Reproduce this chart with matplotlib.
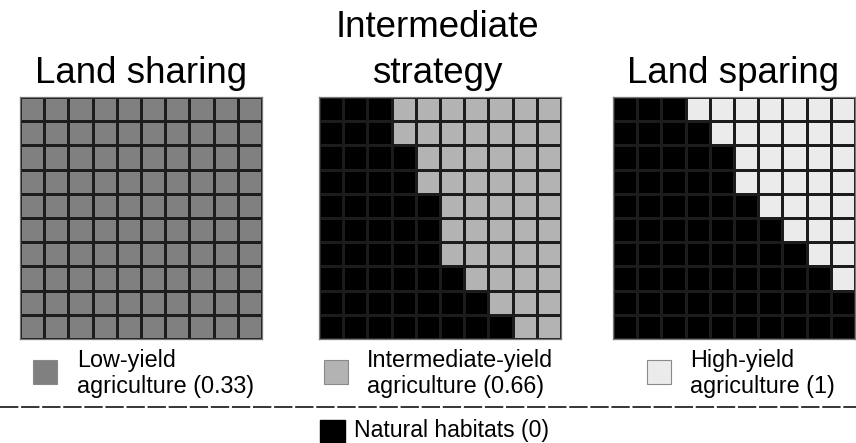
import numpy as np
import matplotlib
matplotlib.use("Agg")
import matplotlib.pyplot as plt
from matplotlib.colors import ListedColormap, BoundaryNorm
from matplotlib.patches import Rectangle

plt.rcParams['font.family'] = ['Liberation Sans', 'DejaVu Sans']

# Data: land-use value per cell (0 = natural habitat)
titles = ["Land sharing", "Intermediate\nstrategy", "Land sparing"]
yield_values = [0.33, 0.66, 1.0]
# number of natural-habitat cells at left of each row (top row first)
natural_per_row = [
    [0, 0, 0, 0, 0, 0, 0, 0, 0, 0],
    [3, 3, 4, 4, 5, 5, 5, 6, 7, 8],
    [3, 4, 5, 5, 6, 7, 8, 9, 10, 10],
]
legend_labels = ["Low-yield\nagriculture (0.33)",
                 "Intermediate-yield\nagriculture (0.66)",
                 "High-yield\nagriculture (1)"]
natural_label = "Natural habitats (0)"

colors = {0.0: "#000000", 0.33: "#808080", 0.66: "#b3b3b3", 1.0: "#ebebeb"}
levels = [0.0, 0.33, 0.66, 1.0]
cmap = ListedColormap([colors[v] for v in levels])
norm = BoundaryNorm([-0.1, 0.2, 0.5, 0.8, 1.1], cmap.N)

W, H = 856, 443
fig = plt.figure(figsize=(W / 100, H / 100), dpi=100)

grid_left = [20, 319, 613]
grid_top, grid_size = 97, 242

for i in range(3):
    x0 = grid_left[i]
    ax = fig.add_axes([x0 / W, (H - grid_top - grid_size) / H, grid_size / W, grid_size / H])
    grid = np.full((10, 10), yield_values[i])
    for r, n in enumerate(natural_per_row[i]):
        grid[r, :n] = 0.0
    ax.pcolormesh(np.arange(11), np.arange(11), grid, cmap=cmap, norm=norm,
                  edgecolors="#1c1c1c", linewidth=0.9)
    ax.set_xlim(0, 10)
    ax.set_ylim(10, 0)
    ax.set_xticks([])
    ax.set_yticks([])
    for s in ax.spines.values():
        s.set_edgecolor("#777777")
        s.set_linewidth(0.9)

# overlay axes in pixel coordinates for text and legend
ov = fig.add_axes([0, 0, 1, 1])
ov.set_xlim(0, W)
ov.set_ylim(H, 0)
ov.axis("off")

title_centers = [141, 437, 733]
for i, t in enumerate(titles):
    lines = t.split("\n")
    for k, line in enumerate(reversed(lines)):
        ov.text(title_centers[i], 83 - 46 * k, line, ha="center", va="baseline",
                fontsize=26.5)

sq_x = [33, 324, 647]
text_x = [77, 367, 690]
for i in range(3):
    ov.add_patch(Rectangle((sq_x[i], 360), 24, 24, facecolor=colors[yield_values[i]],
                           edgecolor="#8a8a8a", linewidth=0.8))
    for k, line in enumerate(legend_labels[i].split("\n")):
        ov.text(text_x[i], 367 + 26 * k, line, ha="left", va="baseline",
                fontsize=16.8)

ov.plot([0, W], [407, 407], color="black", linewidth=1.1, linestyle=(0, (12, 1.8)))

ov.add_patch(Rectangle((320, 420), 25, 25, facecolor="black", edgecolor="black"))
ov.text(354, 437, natural_label, ha="left", va="baseline", fontsize=16.6)

fig.savefig("out.png", dpi=100)
